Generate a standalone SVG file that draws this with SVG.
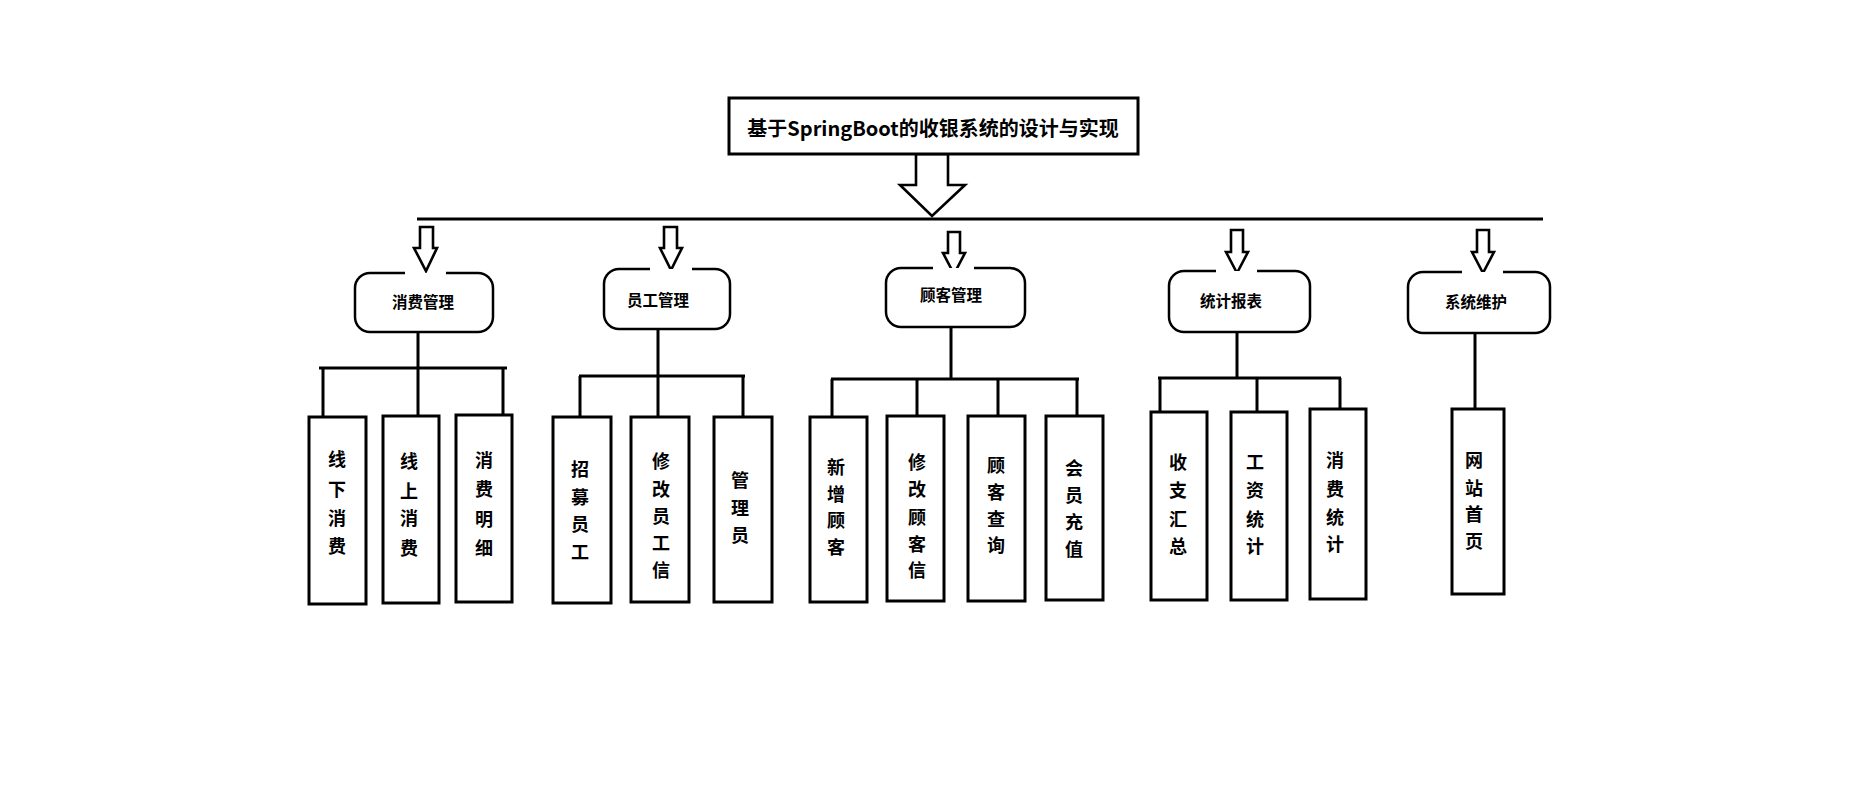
<svg xmlns="http://www.w3.org/2000/svg" width="1875" height="795" viewBox="0 0 1875 795">
<style>
text{font-family:"Noto Sans CJK SC","Microsoft YaHei",sans-serif;font-weight:bold;fill:#000;text-anchor:middle;dominant-baseline:central}
.title{font-size:20px}
.lbl{font-size:15.5px}
.vt{font-size:18px}
.box{fill:#fff;stroke:#000;stroke-width:3}
.node{fill:#fff;stroke:#000;stroke-width:2.5}
.arrow{fill:#fff;stroke:#000;stroke-width:2.6;stroke-linejoin:miter}
.ln{fill:none;stroke:#000;stroke-width:3}
</style>
<rect width="1875" height="795" fill="#fff"/>
<g id="connectors">
<line class="ln" x1="417" y1="219" x2="1543" y2="219"/>
<polygon class="arrow" points="916,154 916,185 900,185 932,216 965,185 948,185 948,154"/>
<polygon class="arrow" points="420,227 433,227 433,248 437,248 426,271 414,248 420,248"/>
<polygon class="arrow" points="664,227 677,227 677,248 682,248 671,270 660,248 664,248"/>
<polygon class="arrow" points="948,232 960,232 960,253 965,253 954,274 943,253 948,253"/>
<polygon class="arrow" points="1231,230 1243,230 1243,252 1248,252 1237,273 1226,252 1231,252"/>
<polygon class="arrow" points="1477,230 1489,230 1489,252 1494,252 1483,273 1472,252 1477,252"/>
<path class="ln" d="M418 332V368M319 368H507M323 368V417M418 368V416M503 368V415"/>
<path class="ln" d="M658 329V376M579 376H745M580 376V417M658 376V417M743 376V417"/>
<path class="ln" d="M951 327V379M831 379H1079M832 379V417M917 379V416M998 379V416M1077 379V416"/>
<path class="ln" d="M1237 332V378M1158 378H1341M1160 378V412M1257 378V412M1340 378V409"/>
<path class="ln" d="M1475 333V409"/>
</g>
<g id="title">
<rect class="box" x="729" y="98" width="409" height="56"/>
<text class="title" x="933" y="127">基于SpringBoot的收银系统的设计与实现</text>
</g>
<g id="n1">
<path class="node" d="M446 273H478A15 15 0 0 1 493 288V317A15 15 0 0 1 478 332H370A15 15 0 0 1 355 317V288A15 15 0 0 1 370 273H405"/>
<text class="lbl" x="423" y="301">消费管理</text>
</g>
<g id="n2">
<path class="node" d="M692 269H715A15 15 0 0 1 730 284V314A15 15 0 0 1 715 329H619A15 15 0 0 1 604 314V284A15 15 0 0 1 619 269H650"/>
<text class="lbl" x="658" y="299">员工管理</text>
</g>
<g id="n3">
<path class="node" d="M974 268H1010A15 15 0 0 1 1025 283V312A15 15 0 0 1 1010 327H901A15 15 0 0 1 886 312V283A15 15 0 0 1 901 268H933"/>
<text class="lbl" x="951" y="294">顾客管理</text>
</g>
<g id="n4">
<path class="node" d="M1257 271H1295A15 15 0 0 1 1310 286V317A15 15 0 0 1 1295 332H1184A15 15 0 0 1 1169 317V286A15 15 0 0 1 1184 271H1216"/>
<text class="lbl" x="1231" y="300">统计报表</text>
</g>
<g id="n5">
<path class="node" d="M1503 272H1535A15 15 0 0 1 1550 287V318A15 15 0 0 1 1535 333H1423A15 15 0 0 1 1408 318V287A15 15 0 0 1 1423 272H1462"/>
<text class="lbl" x="1476" y="301">系统维护</text>
</g>
<g id="b1"><rect class="box" x="309" y="417" width="57" height="187"/>
<text class="vt"><tspan x="337" y="458">线</tspan><tspan x="337" y="488">下</tspan><tspan x="337" y="517">消</tspan><tspan x="337" y="545">费</tspan></text></g>
<g id="b2"><rect class="box" x="383" y="416" width="56" height="187"/>
<text class="vt"><tspan x="409" y="460">线</tspan><tspan x="409" y="490">上</tspan><tspan x="409" y="517">消</tspan><tspan x="409" y="547">费</tspan></text></g>
<g id="b3"><rect class="box" x="456" y="415" width="56" height="187"/>
<text class="vt"><tspan x="484" y="459">消</tspan><tspan x="484" y="488">费</tspan><tspan x="484" y="518">明</tspan><tspan x="484" y="547">细</tspan></text></g>
<g id="b4"><rect class="box" x="553" y="417" width="58" height="186"/>
<text class="vt"><tspan x="580" y="468">招</tspan><tspan x="580" y="496">募</tspan><tspan x="580" y="523">员</tspan><tspan x="580" y="551">工</tspan></text></g>
<g id="b5"><rect class="box" x="631" y="417" width="58" height="185"/>
<text class="vt"><tspan x="661" y="460">修</tspan><tspan x="661" y="488">改</tspan><tspan x="661" y="515">员</tspan><tspan x="661" y="542">工</tspan><tspan x="661" y="569">信</tspan></text></g>
<g id="b6"><rect class="box" x="714" y="417" width="58" height="185"/>
<text class="vt"><tspan x="740" y="479">管</tspan><tspan x="740" y="507">理</tspan><tspan x="740" y="534">员</tspan></text></g>
<g id="b7"><rect class="box" x="810" y="417" width="57" height="185"/>
<text class="vt"><tspan x="836" y="466">新</tspan><tspan x="836" y="493">增</tspan><tspan x="836" y="519">顾</tspan><tspan x="836" y="546">客</tspan></text></g>
<g id="b8"><rect class="box" x="887" y="416" width="57" height="185"/>
<text class="vt"><tspan x="917" y="461">修</tspan><tspan x="917" y="488">改</tspan><tspan x="917" y="516">顾</tspan><tspan x="917" y="543">客</tspan><tspan x="917" y="569">信</tspan></text></g>
<g id="b9"><rect class="box" x="968" y="416" width="57" height="185"/>
<text class="vt"><tspan x="996" y="464">顾</tspan><tspan x="996" y="491">客</tspan><tspan x="996" y="518">查</tspan><tspan x="996" y="544">询</tspan></text></g>
<g id="b10"><rect class="box" x="1046" y="416" width="57" height="184"/>
<text class="vt"><tspan x="1074" y="467">会</tspan><tspan x="1074" y="494">员</tspan><tspan x="1074" y="521">充</tspan><tspan x="1074" y="548">值</tspan></text></g>
<g id="b11"><rect class="box" x="1151" y="412" width="56" height="188"/>
<text class="vt"><tspan x="1178" y="461">收</tspan><tspan x="1178" y="489">支</tspan><tspan x="1178" y="518">汇</tspan><tspan x="1178" y="545">总</tspan></text></g>
<g id="b12"><rect class="box" x="1231" y="412" width="56" height="188"/>
<text class="vt"><tspan x="1255" y="461">工</tspan><tspan x="1255" y="489">资</tspan><tspan x="1255" y="518">统</tspan><tspan x="1255" y="545">计</tspan></text></g>
<g id="b13"><rect class="box" x="1310" y="409" width="56" height="190"/>
<text class="vt"><tspan x="1335" y="459">消</tspan><tspan x="1335" y="488">费</tspan><tspan x="1335" y="516">统</tspan><tspan x="1335" y="543">计</tspan></text></g>
<g id="b14"><rect class="box" x="1452" y="409" width="52" height="185"/>
<text class="vt"><tspan x="1474" y="459">网</tspan><tspan x="1474" y="487">站</tspan><tspan x="1474" y="513">首</tspan><tspan x="1474" y="540">页</tspan></text></g>
</svg>
